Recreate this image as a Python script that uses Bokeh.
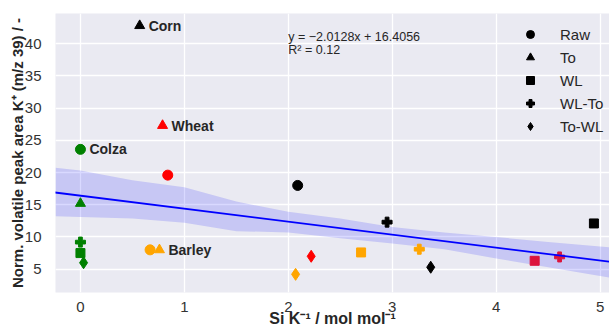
from bokeh.plotting import figure
from bokeh.models import Range1d, Slope, Legend, LegendItem
from bokeh.embed import file_html
from bokeh.resources import INLINE
from bokeh.core.properties import value

FONT = "Liberation Sans"

# Data: colour = biomass, marker = treatment
raw_x = [0.0, 0.84, 0.67, 2.09]
raw_y = [23.6, 19.6, 8.0, 18.0]
raw_c = ["green", "red", "orange", "black"]

to_x = [0.57, 0.79, 0.0, 0.76]
to_y = [42.8, 27.3, 15.2, 8.0]
to_c = ["black", "red", "green", "orange"]

wl_x = [0.0, 2.70, 4.37, 4.94]
wl_y = [7.5, 7.6, 6.3, 12.1]
wl_c = ["green", "orange", "#DC143C", "black"]

wlto_x = [0.0, 2.95, 3.26, 4.61]
wlto_y = [9.2, 12.3, 8.1, 6.9]
wlto_c = ["green", "black", "orange", "#DC143C"]

towl_x = [0.03, 2.07, 2.22, 3.37]
towl_y = [6.0, 4.2, 7.0, 5.3]
towl_c = ["green", "orange", "red", "black"]

# biomass labels (placed next to a point)
label_text = ["Corn", "Wheat", "Colza", "Barley"]
label_x = [to_x[0], to_x[1], raw_x[0], to_x[3]]
label_y = [to_y[0], to_y[1], raw_y[0], to_y[3]]

# regression
slope = -2.0128
intercept = 16.4056
eq_lines = ["y = \u22122.0128x + 16.4056", "R\u00b2 = 0.12"]
eq_x = [2.0, 2.0]
eq_y = [41.0, 38.95]

# confidence band
band_x = [-0.24, 0.0, 0.5, 1.0, 1.5, 2.0, 2.5, 3.0, 3.5, 4.0, 4.5, 5.09]
band_upper = [20.75, 20.3, 18.8, 17.7, 15.5, 13.9, 12.85, 11.55, 10.7, 10.0, 9.2, 8.4]
band_lower = [13.2, 13.1, 12.85, 12.2, 10.9, 10.7, 9.8, 9.0, 8.1, 6.66, 5.3, 3.7]

x_ticks = [0, 1, 2, 3, 4, 5]
y_ticks = [5, 10, 15, 20, 25, 30, 35, 40]

p = figure(width=609, height=331, output_backend="svg", toolbar_location=None,
           x_range=Range1d(-0.24, 5.09), y_range=Range1d(1.38, 44.69),
           min_border_left=55, min_border_right=0, min_border_top=13, min_border_bottom=39)
p.background_fill_color = "#EAEAF2"
p.outline_line_color = None
p.border_fill_color = "white"

for ax in (p.xaxis[0], p.yaxis[0]):
    ax.axis_line_color = None
    ax.major_tick_line_color = None
    ax.minor_tick_line_color = None
    ax.major_label_text_font = FONT
    ax.major_label_text_font_size = "15px"
    ax.major_label_text_color = "#333333"
    ax.axis_label_text_font = FONT
    ax.axis_label_text_font_size = "15px"
    ax.axis_label_text_font_style = "bold"
    ax.axis_label_text_color = "#262626"
p.xaxis.axis_label_text_font_size = "16px"
p.xaxis.ticker = x_ticks
p.yaxis.ticker = y_ticks
p.xaxis.axis_label = "Si K\u207b\u00b9 / mol mol\u207b\u00b9"
p.yaxis.axis_label = "Norm. volatile peak area K\u207a (m/z 39) / -"
p.xaxis.major_label_standoff = 3
p.yaxis.major_label_standoff = 8
p.xaxis.axis_label_standoff = -5
p.yaxis.axis_label_standoff = -4

p.grid.grid_line_color = "white"
p.grid.grid_line_width = 1.3

p.varea(x=band_x, y1=band_lower, y2=band_upper, fill_color="#0000FF", fill_alpha=0.15)
p.add_layout(Slope(gradient=slope, y_intercept=intercept, line_color="#0000FF", line_width=1.8))

p.scatter(raw_x, raw_y, marker="circle", size=10, color=raw_c)
p.scatter(to_x, to_y, marker="triangle", size=10, color=to_c)
p.scatter(wl_x, wl_y, marker="square", size=9, color=wl_c)
p.scatter(wlto_x, wlto_y, marker="plus", size=10, color=wlto_c)
p.scatter(towl_x, towl_y, marker="diamond", size=12, color=towl_c)

p.text(x=label_x, y=label_y, text=label_text, x_offset=9, text_baseline="middle",
       text_font=value(FONT), text_font_size="14px", text_font_style="bold", text_color="#262626")

p.text(x=eq_x, y=eq_y, text=eq_lines, text_baseline="middle",
       text_font=value(FONT), text_font_size="12.5px", text_color="#262626")

# legend (black markers)
leg_names = ["Raw", "To", "WL", "WL-To", "To-WL"]
leg_markers = ["circle", "triangle", "square", "plus", "diamond"]
items = []
for name, mk in zip(leg_names, leg_markers):
    r = p.scatter(x=[float("nan")], y=[float("nan")], marker=mk, size=10, color="black")
    items.append(LegendItem(label=name, renderers=[r]))
legend = Legend(items=items, location=(465, 156),
                background_fill_alpha=0, border_line_alpha=0,
                label_text_font=FONT, label_text_font_size="15px", label_text_color="#262626",
                glyph_width=20, glyph_height=20, label_height=20, label_standoff=20,
                spacing=3, padding=0, margin=0)
p.add_layout(legend)

open("out.html", "w").write(file_html(p, INLINE))
